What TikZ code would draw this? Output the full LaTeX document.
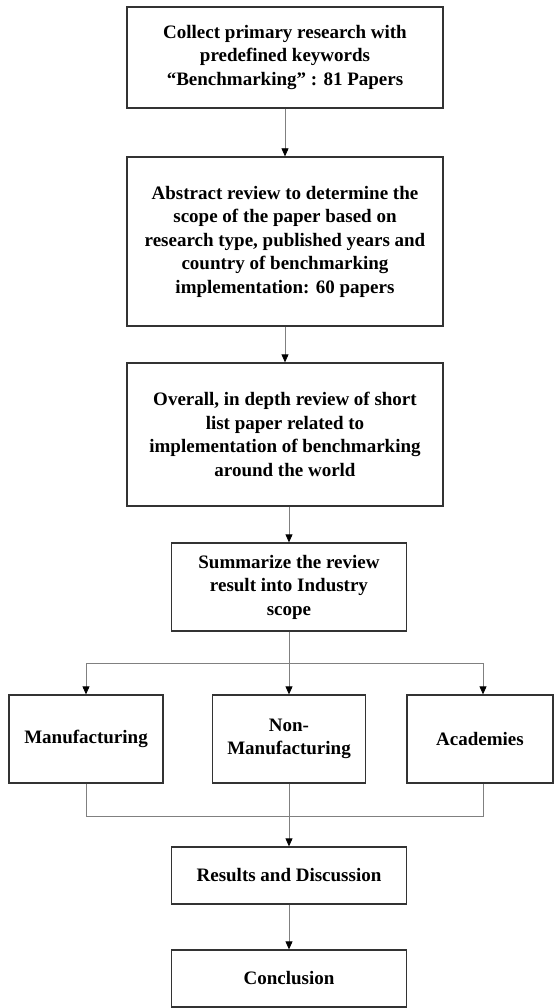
\documentclass[tikz,border=0pt]{standalone}
\usepackage{fontspec}
\setmainfont{Liberation Serif}
\usetikzlibrary{arrows.meta}
\begin{document}
\begin{tikzpicture}[x=1pt,y=-1pt,
  box/.style={draw=black!80, line width=1.3pt, inner sep=0pt, align=center,
    font=\fontsize{19}{23.5}\selectfont\bfseries},
  conn/.style={draw=black!50, line width=0.8pt},
  arr/.style={conn, -{Triangle[width=7pt,length=8pt,fill=black,color=black]}}]
\path[use as bounding box] (0,0) rectangle (554,1008);
\node[box, minimum width=316pt, minimum height=101pt] (b1) at (285,57.5)
  {Collect primary research with\\predefined keywords\\“Benchmarking” : 81 Papers};
\node[box, minimum width=316pt, minimum height=169pt] (b2) at (285,241.5)
  {Abstract review to determine the\\scope of the paper based on\\research type, published years and\\country of benchmarking\\implementation: 60 papers};
\node[box, minimum width=316pt, minimum height=143pt] (b3) at (285,434.5)
  {Overall, in depth review of short\\list paper related to\\implementation of benchmarking\\around the world};
\node[box, minimum width=235pt, minimum height=88pt] (b4) at (289,587)
  {Summarize the review\\result into Industry\\scope};
\node[box, minimum width=154pt, minimum height=88pt] (b5) at (86,739) {Manufacturing};
\node[box, minimum width=153pt, minimum height=88pt] (b6) at (289,739) {Non-\\Manufacturing};
\node[box, minimum width=146pt, minimum height=88pt] (b7) at (480,739) {Academies};
\node[box, minimum width=235pt, minimum height=57pt] (b8) at (289,875.5) {Results and Discussion};
\node[box, minimum width=235pt, minimum height=57pt] (b9) at (289,978.5) {Conclusion};
\coordinate (sl) at (86,663);
\coordinate (sr) at (483,663);
\coordinate (jl) at (86,816);
\coordinate (jr) at (483,816);
\draw[arr] (b1.south) -- (b2.north);
\draw[arr] (b2.south) -- (b3.north);
\draw[arr] (b4.north |- b3.south) -- (b4.north);
\draw[conn] (sl) -- (sr);
\draw[arr] (b4.south) -- (b6.north);
\draw[arr] (sl) -- (sl |- b5.north);
\draw[arr] (sr) -- (sr |- b7.north);
\draw[conn] (b5.south) -- (jl) -- (jr) -- (jr |- b7.south);
\draw[arr] (b6.south) -- (b8.north);
\draw[arr] (b8.south) -- (b9.north);
\end{tikzpicture}
\end{document}
